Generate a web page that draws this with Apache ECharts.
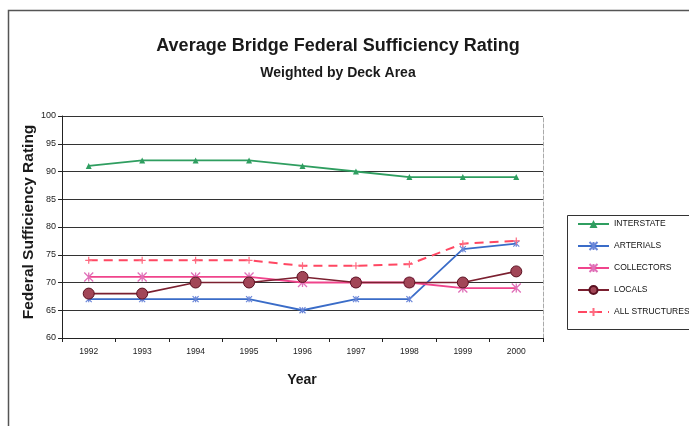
<!DOCTYPE html>
<html>
<head>
<meta charset="utf-8">
<script src="https://cdn.jsdelivr.net/npm/echarts@6/dist/echarts.min.js"></script>
<style>
  html, body { margin: 0; padding: 0; background: #ffffff; }
  #chart { width: 689px; height: 426px; }
</style>
</head>
<body>
<div id="chart"></div>
<script>
// Average federal sufficiency rating by functional class, 1992-2000
var years = ['1992', '1993', '1994', '1995', '1996', '1997', '1998', '1999', '2000'];
var interstate = [91, 92, 92, 92, 91, 90, 89, 89, 89];
var arterials = [67, 67, 67, 67, 65, 67, 67, 76, 77];
var collectors = [71, 71, 71, 71, 70, 70, 70, 69, 69];
var locals = [68, 68, 70, 70, 71, 70, 70, 70, 72];
var allStructures = [74, 74, 74, 74, 73, 73, 73.3, 77, 77.5];
var yTicks = { min: 60, max: 100, step: 5 };

var sans = "'Liberation Sans', Arial, sans-serif";

// stroke-only marker shapes
var starPath = 'path://M0,0L10,10M10,0L0,10M5,0L5,10';
var plusPath = 'path://M0,5L10,5M5,0L5,10';

var chart = echarts.init(document.getElementById('chart'), null, { renderer: 'canvas' });

chart.setOption({
  backgroundColor: '#ffffff',
  animation: false,
  graphic: [
    {
      type: 'rect', left: 6, top: 8, silent: true,
      shape: { width: 700, height: 440 },
      style: { fill: 'none', stroke: '#555', lineWidth: 1.5 }
    },
    {
      type: 'rect', left: 565, top: 213, silent: true,
      shape: { width: 140, height: 114 },
      style: { fill: 'none', stroke: '#333', lineWidth: 1 }
    },
    {
      type: 'text', x: 338, y: 46, silent: true,
      style: {
        text: 'Average Bridge Federal Sufficiency Rating',
        font: 'bold 18px ' + sans, fill: '#1a1a1a',
        textAlign: 'center', textVerticalAlign: 'middle'
      }
    },
    {
      type: 'text', x: 338, y: 73, silent: true,
      style: {
        text: 'Weighted by Deck Area',
        font: 'bold 14px ' + sans, fill: '#1a1a1a',
        textAlign: 'center', textVerticalAlign: 'middle'
      }
    },
    {
      type: 'text', x: 29, y: 222, rotation: Math.PI / 2, silent: true,
      style: {
        text: 'Federal Sufficiency Rating',
        font: 'bold 15.5px ' + sans, fill: '#1a1a1a',
        textAlign: 'center', textVerticalAlign: 'middle'
      }
    },
    {
      type: 'text', x: 302, y: 380, silent: true,
      style: {
        text: 'Year',
        font: 'bold 14px ' + sans, fill: '#1a1a1a',
        textAlign: 'center', textVerticalAlign: 'middle'
      }
    }
  ],
  grid: { left: 62, right: 146, top: 116, bottom: 88 },
  legend: {
    orient: 'vertical',
    left: 572, top: 214,
    itemWidth: 31, itemHeight: 10, itemGap: 12,
    textStyle: { fontFamily: sans, fontSize: 8.5, color: '#111', lineHeight: 10 },
    data: ['INTERSTATE', 'ARTERIALS', 'COLLECTORS', 'LOCALS', 'ALL STRUCTURES']
  },
  xAxis: {
    type: 'category',
    data: years,
    boundaryGap: true,
    axisLine: { lineStyle: { color: '#222', width: 1 } },
    axisTick: { show: true, length: 4, lineStyle: { color: '#222' } },
    axisLabel: { fontFamily: sans, fontSize: 8.5, color: '#222', margin: 9 }
  },
  yAxis: [
    {
      type: 'value',
      min: yTicks.min, max: yTicks.max, interval: yTicks.step,
      axisLine: { show: true, lineStyle: { color: '#222', width: 1 } },
      axisTick: { show: true, length: 4, lineStyle: { color: '#222' } },
      axisLabel: { fontFamily: sans, fontSize: 9, color: '#222', margin: 6 },
      splitLine: { show: true, lineStyle: { color: '#333', width: 1 } }
    },
    {
      type: 'value', position: 'right',
      min: yTicks.min, max: yTicks.max, interval: yTicks.step,
      axisLine: { show: true, lineStyle: { color: '#aaa', width: 1, type: 'dashed' } },
      axisTick: { show: false }, axisLabel: { show: false }, splitLine: { show: false }
    }
  ],
  series: [
    {
      name: 'INTERSTATE', type: 'line', data: interstate,
      symbol: 'triangle', symbolSize: 6,
      lineStyle: { color: '#2f9e60', width: 1.8 },
      itemStyle: { color: '#2f9e60' }
    },
    {
      name: 'ARTERIALS', type: 'line', data: arterials,
      symbol: starPath, symbolSize: 6,
      lineStyle: { color: '#3a6cc8', width: 1.8 },
      itemStyle: { color: 'transparent', borderColor: '#6a86d8', borderWidth: 1.2 }
    },
    {
      name: 'COLLECTORS', type: 'line', data: collectors,
      symbol: starPath, symbolSize: 9,
      lineStyle: { color: '#f0448c', width: 1.8 },
      itemStyle: { color: 'transparent', borderColor: '#e070b8', borderWidth: 1.3 }
    },
    {
      name: 'LOCALS', type: 'line', data: locals,
      symbol: 'circle', symbolSize: 11,
      lineStyle: { color: '#7b2030', width: 1.6 },
      itemStyle: { color: '#a24657', borderColor: '#5a1020', borderWidth: 1 }
    },
    {
      name: 'ALL STRUCTURES', type: 'line', data: allStructures,
      symbol: plusPath, symbolSize: 7,
      lineStyle: { color: '#ff4762', width: 2, type: [9, 6] },
      itemStyle: { color: 'transparent', borderColor: '#ff6a80', borderWidth: 1.2 }
    }
  ]
});
</script>
</body>
</html>
